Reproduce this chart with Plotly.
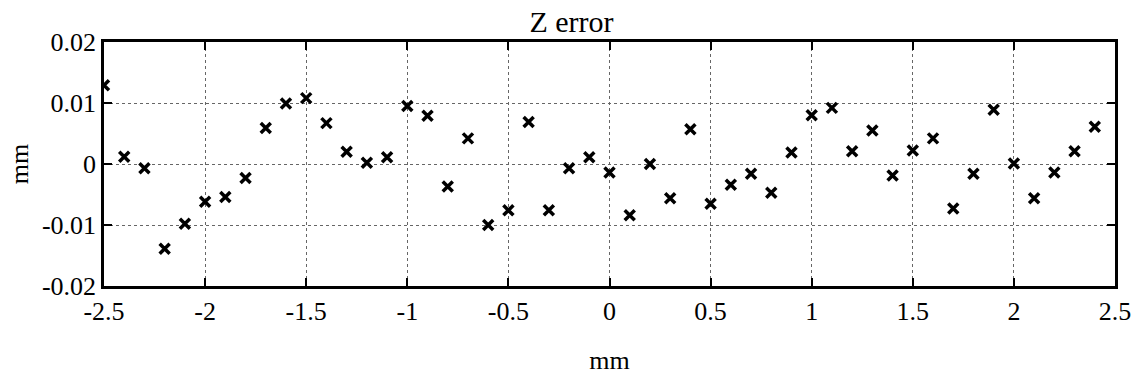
import plotly.graph_objects as go

x_pos = [-2.5, -2.4, -2.3, -2.2, -2.1, -2.0, -1.9, -1.8, -1.7, -1.6,
         -1.5, -1.4, -1.3, -1.2, -1.1, -1.0, -0.9, -0.8, -0.7, -0.6,
         -0.5, -0.4, -0.3, -0.2, -0.1, 0.0, 0.1, 0.2, 0.3, 0.4,
         0.5, 0.6, 0.7, 0.8, 0.9, 1.0, 1.1, 1.2, 1.3, 1.4,
         1.5, 1.6, 1.7, 1.8, 1.9, 2.0, 2.1, 2.2, 2.3, 2.4]
z_err = [0.0129, 0.0012, -0.0007, -0.0139, -0.0098, -0.0062, -0.0054, -0.0023, 0.0059, 0.0099,
         0.0108, 0.0067, 0.0020, 0.0002, 0.0011, 0.0095, 0.0079, -0.0037, 0.0042, -0.0100,
         -0.0076, 0.0069, -0.0076, -0.0007, 0.0011, -0.0014, -0.0084, 0.0000, -0.0056, 0.0057,
         -0.0065, -0.0034, -0.0016, -0.0047, 0.0019, 0.0080, 0.0092, 0.0021, 0.0055, -0.0019,
         0.0022, 0.0042, -0.0073, -0.0016, 0.0089, 0.0001, -0.0056, -0.0014, 0.0021, 0.0061]

x_ticks = [-2.5, -2, -1.5, -1, -0.5, 0, 0.5, 1, 1.5, 2, 2.5]
x_tick_labels = ["-2.5", "-2", "-1.5", "-1", "-0.5", "0", "0.5", "1", "1.5", "2", "2.5"]
y_ticks = [-0.02, -0.01, 0, 0.01, 0.02]
y_tick_labels = ["-0.02", "-0.01", "0", "0.01", "0.02"]

FONT = "Liberation Serif"

fig = go.Figure()
fig.add_trace(go.Scatter(
    x=x_pos, y=z_err, mode="markers",
    marker=dict(symbol="x-thin", size=10, color="black",
                line=dict(width=3.5, color="black")),
    showlegend=False,
))

axis_common = dict(
    showline=True, linecolor="black", linewidth=2.5, mirror="allticks",
    ticks="inside", ticklen=8, tickwidth=1.5, tickcolor="black",
    showgrid=True, gridcolor="#666666", gridwidth=1, griddash="dot",
    zeroline=False,
    tickfont=dict(family=FONT, size=26, color="black"),
)

fig.update_xaxes(
    range=[-2.5, 2.5], tickmode="array", tickvals=x_ticks, ticktext=x_tick_labels,
    title=dict(text="mm", font=dict(family=FONT, size=26, color="black"), standoff=26),
    **axis_common,
)
fig.update_yaxes(
    range=[-0.02, 0.02], tickmode="array", tickvals=y_ticks, ticktext=y_tick_labels,
    title=dict(text="mm", font=dict(family=FONT, size=26, color="black"), standoff=6),
    **axis_common,
)

fig.update_layout(
    width=1143, height=382,
    margin=dict(l=104, r=20, t=42, b=90),
    paper_bgcolor="white", plot_bgcolor="white",
    title=dict(text="Z error", x=0.5, xanchor="center", y=0.945, yanchor="middle",
               font=dict(family=FONT, size=30, color="black")),
    font=dict(family=FONT, color="black"),
)

fig.write_html("out.html")
